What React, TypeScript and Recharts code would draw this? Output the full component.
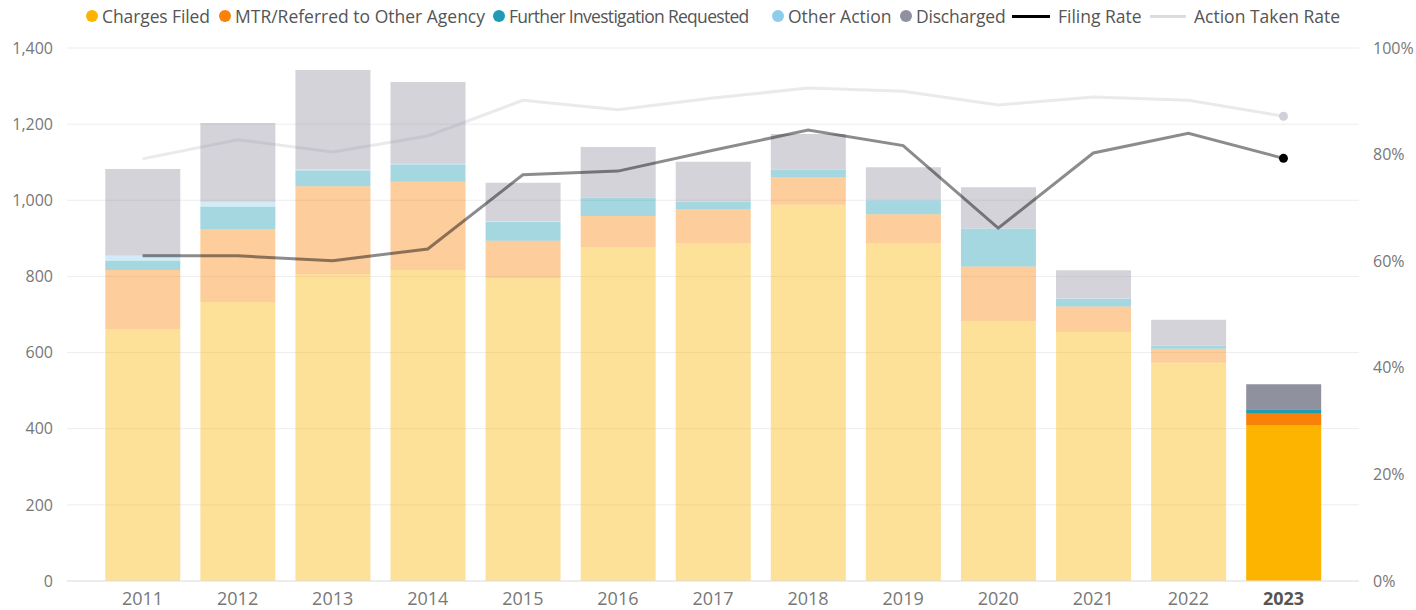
import React from 'react';
import { ComposedChart, Bar, Line, XAxis, YAxis, CartesianGrid, Cell } from 'recharts';

const years = ['2011', '2012', '2013', '2014', '2015', '2016', '2017', '2018', '2019', '2020', '2021', '2022', '2023'];
const chargesFiled = [662, 733, 806, 817, 796, 877, 888, 988, 888, 683, 654, 573, 410];
const mtrReferred = [155, 191, 231, 232, 98, 82, 89, 73, 75, 143, 67, 37, 29];
const furtherInvestigation = [24, 59, 41, 45, 49, 48, 19, 19, 37, 99, 20, 7, 12];
const otherAction = [14, 13, 3, 2, 2, 1, 1, 1, 1, 1, 1, 1, 0];
const discharged = [227, 207, 261, 215, 101, 132, 104, 93, 86, 108, 74, 68, 66];
const filingRate = [0.61, 0.61, 0.601, 0.623, 0.762, 0.769, 0.808, 0.846, 0.817, 0.662, 0.803, 0.84, 0.793];
const actionTakenRate = [0.792, 0.828, 0.805, 0.835, 0.902, 0.884, 0.906, 0.925, 0.919, 0.893, 0.908, 0.902, 0.872];

const leftTicks = [0, 200, 400, 600, 800, 1000, 1200, 1400];
const rightTicks = [0, 0.2, 0.4, 0.6, 0.8, 1];

const COLORS = {
  charges: '#FDB400',
  mtr: '#F98107',
  further: '#1F9BB5',
  other: '#8ECDEA',
  discharged: '#90919F',
};

const FONT = '"Segoe UI", "Open Sans", sans-serif';
const highlightIndex = years.length - 1;

const data = years.map((y, i) => ({
  year: y,
  charges: chargesFiled[i],
  mtr: mtrReferred[i],
  further: furtherInvestigation[i],
  other: otherAction[i],
  discharged: discharged[i],
  filingRate: filingRate[i],
  actionRate: actionTakenRate[i],
}));

const barSeries: { key: string; color: string }[] = [
  { key: 'charges', color: COLORS.charges },
  { key: 'mtr', color: COLORS.mtr },
  { key: 'further', color: COLORS.further },
  { key: 'other', color: COLORS.other },
  { key: 'discharged', color: COLORS.discharged },
];

const XTick = (props: any) => {
  const { x, y, payload } = props;
  const bold = payload.value === years[highlightIndex];
  return (
    <text
      x={x}
      y={y}
      dy="0.71em"
      textAnchor="middle"
      fontFamily={FONT}
      fontSize={18}
      fontWeight={bold ? 700 : 400}
      fill={bold ? '#555555' : '#777777'}
    >
      {payload.value}
    </text>
  );
};

const makeDot = (color: string) => (props: any) => {
  const { cx, cy, index } = props;
  if (index !== highlightIndex) return <g key={`dot-${color}-${index}`} />;
  return <circle key={`dot-${color}-${index}`} cx={cx} cy={cy} r={4.5} fill={color} stroke="none" />;
};

const legendDots = [
  { label: 'Charges Filed', color: COLORS.charges, x: 86, ls: -0.1 },
  { label: 'MTR/Referred to Other Agency', color: COLORS.mtr, x: 219, ls: 0 },
  { label: 'Further Investigation Requested', color: COLORS.further, x: 493, ls: -0.7 },
  { label: 'Other Action', color: COLORS.other, x: 772, ls: 0 },
  { label: 'Discharged', color: COLORS.discharged, x: 900, ls: -0.2 },
];
const legendLines = [
  { label: 'Filing Rate', color: '#000000', x: 1012, w: 38 },
  { label: 'Action Taken Rate', color: '#DCDCE0', x: 1150, w: 36 },
];

export default function App() {
  return (
    <div style={{ position: 'absolute', left: 0, top: 0, width: 1416, height: 610, fontFamily: FONT, background: '#fff' }}>
      <div style={{ position: 'absolute', left: 0, top: 4, width: 1416, height: 24, fontSize: 17.5, color: '#555555', whiteSpace: 'nowrap' }}>
        {legendDots.map((d) => (
          <div key={d.label} style={{ position: 'absolute', left: d.x, top: 0, height: 24, display: 'flex', alignItems: 'center' }}>
            <span style={{ display: 'inline-block', width: 12, height: 12, borderRadius: 6, background: d.color, marginRight: 4 }} />
            <span style={{ letterSpacing: d.ls }}>{d.label}</span>
          </div>
        ))}
        {legendLines.map((d) => (
          <div key={d.label} style={{ position: 'absolute', left: d.x, top: 0, height: 24, display: 'flex', alignItems: 'center' }}>
            <span style={{ display: 'inline-block', width: d.w, height: 3, background: d.color, marginRight: 8 }} />
            <span>{d.label}</span>
          </div>
        ))}
      </div>
      <ComposedChart
        width={1416}
        height={610}
        data={data}
        margin={{ top: 48, right: 0, bottom: 0, left: 0 }}
        barCategoryGap="10.8%"
      >
        <CartesianGrid yAxisId="left" vertical={false} stroke="#EDEDED" strokeWidth={1} />
        <XAxis
          dataKey="year"
          height={29}
          tickLine={false}
          axisLine={{ stroke: '#E3E3E3' }}
          tickMargin={5}
          padding={{ left: 28, right: 28 }}
          tick={<XTick />}
          interval={0}
        />
        <YAxis
          yAxisId="left"
          width={67}
          domain={[0, 1400]}
          ticks={leftTicks}
          tickLine={false}
          axisLine={false}
          tickMargin={8}
          tick={{ fontSize: 16, fill: '#777777', fontFamily: FONT }}
          tickFormatter={(v: number) => v.toLocaleString('en-US')}
        />
        <YAxis
          yAxisId="right"
          orientation="right"
          width={57}
          domain={[0, 1]}
          ticks={rightTicks}
          tickLine={false}
          axisLine={false}
          tickMargin={8}
          tick={{ fontSize: 16, fill: '#777777', fontFamily: FONT }}
          tickFormatter={(v: number) => `${Math.round(v * 100)}%`}
        />
        <Line
          yAxisId="right"
          dataKey="actionRate"
          type="linear"
          stroke="#D0D0D8"
          strokeOpacity={0.45}
          strokeWidth={3}
          dot={makeDot('#D0D0D8')}
          activeDot={false}
          isAnimationActive={false}
          zIndex={250}
        />
        {barSeries.map((s) => (
          <Bar key={s.key} yAxisId="left" dataKey={s.key} stackId="a" fill={s.color} isAnimationActive={false}>
            {data.map((_, i) => (
              <Cell key={`${s.key}-${i}`} fill={s.color} fillOpacity={i === highlightIndex ? 1 : 0.4} />
            ))}
          </Bar>
        ))}
        <Line
          yAxisId="right"
          dataKey="filingRate"
          type="linear"
          stroke="#000000"
          strokeOpacity={0.45}
          strokeWidth={3}
          dot={makeDot('#000000')}
          activeDot={false}
          isAnimationActive={false}
        />
      </ComposedChart>
    </div>
  );
}
